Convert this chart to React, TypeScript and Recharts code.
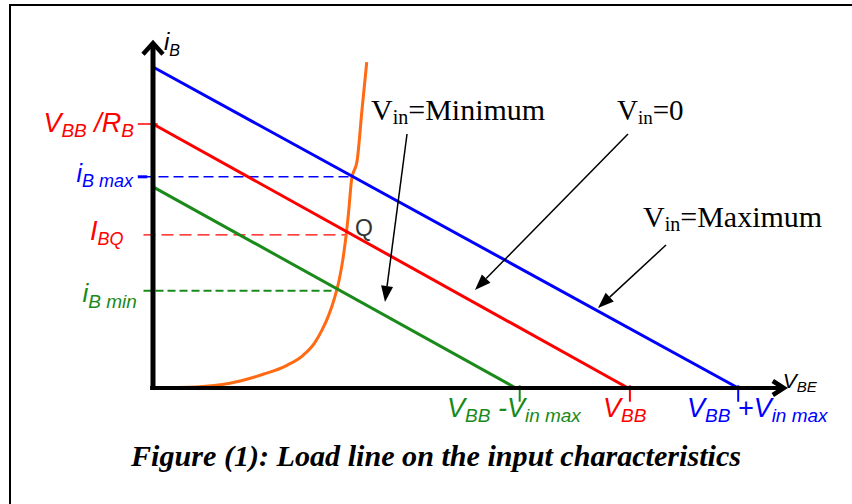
import React from "react";
import { ComposedChart, Line, XAxis, YAxis, ReferenceLine, ReferenceDot } from "recharts";

// ---- data (x: base-emitter voltage units, y: base current units) ----
const VBB = 5;
const VIN_MAX = 1.16;
const loadLineMax = [{ x: 0, y: 6.08 }, { x: 6.16, y: 0 }];
const loadLineZero = [{ x: 0, y: 5 }, { x: 5, y: 0 }];
const loadLineMin = [{ x: 0, y: 3.81 }, { x: 3.82, y: 0 }];
const curveX = [0, 0.46, 0.81, 1.16, 1.41, 1.58, 1.7, 1.78, 1.85, 1.91, 1.96, 2.0, 2.03, 2.06, 2.09, 2.15, 2.2, 2.25];
const curveY = [0, 0.02, 0.09, 0.26, 0.43, 0.62, 0.85, 1.1, 1.38, 1.7, 2.05, 2.45, 2.85, 3.35, 3.94, 4.32, 5.27, 6.17];
const inputCurve = curveX.map((x, i) => ({ x, y: curveY[i] }));
const levelNames = ["iBmax", "IBQ", "iBmin"];
const levelValues = [4.0, 2.9, 1.84];
const levelCurveX = [2.09, 2.03, 1.93];
const xTickValues = [VBB - VIN_MAX + 0.02, VBB + 0.02, VBB + VIN_MAX];

const W = 852;
const H = 504;
const X_DOMAIN: [number, number] = [-1.61053, 7.35789];
const Y_DOMAIN: [number, number] = [-2.19697, 7.34848];

const BLUE = "#0000ff";
const RED = "#ff0000";
const GREEN = "#1a8a1a";
const ORANGE = "#ff6a13";
const SANS = "'Liberation Sans', Arial, sans-serif";
const SERIF = "'Liberation Serif', 'Times New Roman', serif";

type Seg = { t: string; sub?: boolean };

const makeText = (
  segs: Seg[],
  opts: { size: number; sub: number; shift: number; color: string; anchor?: string; italic?: boolean; family?: string; weight?: string }
) => (props: any) => {
  const { cx, cy } = props;
  let cur = 0;
  return (
    <text
      x={cx}
      y={cy}
      textAnchor={opts.anchor || "start"}
      fill={opts.color}
      fontSize={opts.size}
      fontFamily={opts.family || SANS}
      fontStyle={opts.italic === false ? "normal" : "italic"}
      fontWeight={opts.weight || "normal"}
    >
      {segs.map((s, i) => {
        const target = s.sub ? opts.shift : 0;
        const dy = target - cur;
        cur = target;
        return (
          <tspan key={i} dy={dy} fontSize={s.sub ? opts.sub : opts.size}>
            {s.t}
          </tspan>
        );
      })}
    </text>
  );
};

const arrowShape = (props: any) => {
  const { x1, y1, x2, y2 } = props;
  if ([x1, y1, x2, y2].some((v) => typeof v !== "number")) return <g />;
  const ang = Math.atan2(y2 - y1, x2 - x1);
  const len = 16;
  const half = 6;
  const bx = x2 - len * Math.cos(ang);
  const by = y2 - len * Math.sin(ang);
  const px = -Math.sin(ang) * half;
  const py = Math.cos(ang) * half;
  return (
    <g>
      <line x1={x1} y1={y1} x2={bx} y2={by} stroke="#000" strokeWidth={1.5} />
      <polygon points={`${x2},${y2} ${bx + px},${by + py} ${bx - px},${by - py}`} fill="#000" />
    </g>
  );
};

const chevronUp = (props: any) => {
  const { cx, cy } = props;
  return <path d={`M${cx - 10},${cy + 11} L${cx},${cy} L${cx + 10},${cy + 11}`} fill="none" stroke="#000" strokeWidth={4.5} strokeLinejoin="miter" />;
};
const chevronRight = (props: any) => {
  const { cx, cy } = props;
  return <path d={`M${cx - 11},${cy - 7} L${cx},${cy} L${cx - 11},${cy + 7}`} fill="none" stroke="#000" strokeWidth={4.5} strokeLinejoin="miter" />;
};

const levelColors = [BLUE, RED, GREEN];
const levelDash = ["10 5", "12 6", "8 4"];
const levelWidth = [1.5, 1.2, 2];

export default function App() {
  return (
    <div style={{ position: "absolute", left: 0, top: 0, width: W, height: H, background: "#fff" }}>
      <div
        style={{
          position: "absolute",
          left: 9,
          top: 4,
          width: W - 9,
          height: H - 4,
          borderLeft: "2px solid #000",
          borderTop: "2px solid #000",
          boxSizing: "border-box",
        }}
      />
      <div style={{ position: "absolute", left: 0, top: 0 }}>
        <ComposedChart width={W} height={H} margin={{ top: 0, right: 0, bottom: 0, left: 0 }}>
          <XAxis type="number" dataKey="x" domain={X_DOMAIN} allowDataOverflow hide />
          <YAxis type="number" dataKey="y" domain={Y_DOMAIN} allowDataOverflow hide />

          {/* dashed operating levels */}
          {levelValues.map((v, i) => (
            <ReferenceLine
              key={levelNames[i]}
              segment={[{ x: -0.1, y: v }, { x: levelCurveX[i], y: v }]}
              stroke={levelColors[i]}
              strokeDasharray={levelDash[i]}
              strokeWidth={levelWidth[i]}
            />
          ))}
          {/* small tick stubs on the left of the y axis */}
          <ReferenceLine segment={[{ x: -0.16, y: levelValues[0] }, { x: -0.06, y: levelValues[0] }]} stroke={BLUE} strokeWidth={3} />
          <ReferenceLine segment={[{ x: -0.16, y: 5 }, { x: 0.05, y: 5 }]} stroke={RED} strokeWidth={1.5} />

          {/* x ticks */}
          {xTickValues.map((v, i) => (
            <ReferenceLine key={"xt" + i} segment={[{ x: v, y: 0.05 }, { x: v, y: -0.26 }]} stroke={[GREEN, RED, BLUE][i]} strokeWidth={2} />
          ))}

          <Line data={inputCurve} dataKey="y" type="monotone" stroke={ORANGE} strokeWidth={3} dot={false} activeDot={false} isAnimationActive={false} />
          <Line data={loadLineMin} dataKey="y" stroke={GREEN} strokeWidth={3} dot={false} activeDot={false} isAnimationActive={false} />
          <Line data={loadLineZero} dataKey="y" stroke={RED} strokeWidth={3} dot={false} activeDot={false} isAnimationActive={false} />
          <Line data={loadLineMax} dataKey="y" stroke={BLUE} strokeWidth={3} dot={false} activeDot={false} isAnimationActive={false} />

          {/* axes */}
          <ReferenceLine segment={[{ x: 0, y: -0.03 }, { x: 0, y: 6.53 }]} stroke="#000" strokeWidth={5} />
          <ReferenceLine segment={[{ x: -0.03, y: 0 }, { x: 6.64, y: 0 }]} stroke="#000" strokeWidth={4} />
          <ReferenceDot x={0} y={6.53} r={0} shape={chevronUp} />
          <ReferenceDot x={6.64} y={0} r={0} shape={chevronRight} />

          {/* annotation arrows */}
          <ReferenceLine segment={[{ x: 2.674, y: 4.811 }, { x: 2.442, y: 1.629 }]} shape={arrowShape} />
          <ReferenceLine segment={[{ x: 5.0, y: 4.811 }, { x: 3.389, y: 1.856 }]} shape={arrowShape} />
          <ReferenceLine segment={[{ x: 5.4, y: 2.708 }, { x: 4.684, y: 1.515 }]} shape={arrowShape} />

          {/* axis labels */}
          <ReferenceDot x={0.116} y={6.402} r={0} shape={makeText([{ t: "i" }, { t: "B", sub: true }], { size: 24, sub: 16, shift: 6, color: "#000" })} />
          <ReferenceDot x={6.63} y={0} r={0} shape={makeText([{ t: "V" }, { t: "BE", sub: true }], { size: 21, sub: 15, shift: 4, color: "#000" })} />

          {/* y-side labels */}
          <ReferenceDot x={-0.2} y={4.85} r={0} shape={makeText([{ t: "V" }, { t: "BB", sub: true }, { t: " /" }, { t: "R" }, { t: "B", sub: true }], { size: 27, sub: 19, shift: 5, color: RED, anchor: "end" })} />
          <ReferenceDot x={-0.21} y={3.9} r={0} shape={makeText([{ t: "i" }, { t: "B max", sub: true }], { size: 25, sub: 18, shift: 5, color: BLUE, anchor: "end" })} />
          <ReferenceDot x={-0.31} y={2.8} r={0} shape={makeText([{ t: "I" }, { t: "BQ", sub: true }], { size: 27, sub: 18, shift: 5, color: RED, anchor: "end" })} />
          <ReferenceDot x={-0.17} y={1.63} r={0} shape={makeText([{ t: "i" }, { t: "B min", sub: true }], { size: 26, sub: 19, shift: 6, color: GREEN, anchor: "end" })} />
          <ReferenceDot x={2.126} y={2.879} r={0} shape={makeText([{ t: "Q" }], { size: 23, sub: 14, shift: 0, color: "#333", italic: false })} />

          {/* x-side labels */}
          <ReferenceDot x={3.095} y={-0.549} r={0} shape={makeText([{ t: "V" }, { t: "BB", sub: true }, { t: " -V" }, { t: "in max", sub: true }], { size: 27, sub: 19, shift: 5, color: GREEN })} />
          <ReferenceDot x={4.737} y={-0.549} r={0} shape={makeText([{ t: "V" }, { t: "BB", sub: true }], { size: 27, sub: 19, shift: 5, color: RED })} />
          <ReferenceDot x={5.621} y={-0.549} r={0} shape={makeText([{ t: "V" }, { t: "BB", sub: true }, { t: " +V" }, { t: "in max", sub: true }], { size: 27, sub: 19, shift: 5, color: BLUE })} />

          {/* annotations */}
          <ReferenceDot x={2.295} y={5.076} r={0} shape={makeText([{ t: "V" }, { t: "in", sub: true }, { t: "=Minimum" }], { size: 30, sub: 20, shift: 4, color: "#000", italic: false, family: SERIF })} />
          <ReferenceDot x={4.884} y={5.076} r={0} shape={makeText([{ t: "V" }, { t: "in", sub: true }, { t: "=0" }], { size: 29, sub: 19, shift: 4, color: "#000", italic: false, family: SERIF })} />
          <ReferenceDot x={5.158} y={3.049} r={0} shape={makeText([{ t: "V" }, { t: "in", sub: true }, { t: "=Maximum" }], { size: 30, sub: 20, shift: 4, color: "#000", italic: false, family: SERIF })} />

          {/* caption */}
          <ReferenceDot
            x={2.979}
            y={-1.477}
            r={0}
            shape={(p: any) => (
              <text x={p.cx} y={p.cy} textAnchor="middle" fontFamily={SERIF} fontStyle="italic" fontWeight="bold" fontSize={29} fill="#000" textLength={610} lengthAdjust="spacingAndGlyphs">
                Figure (1): Load line on the input characteristics
              </text>
            )}
          />
        </ComposedChart>
      </div>
    </div>
  );
}
